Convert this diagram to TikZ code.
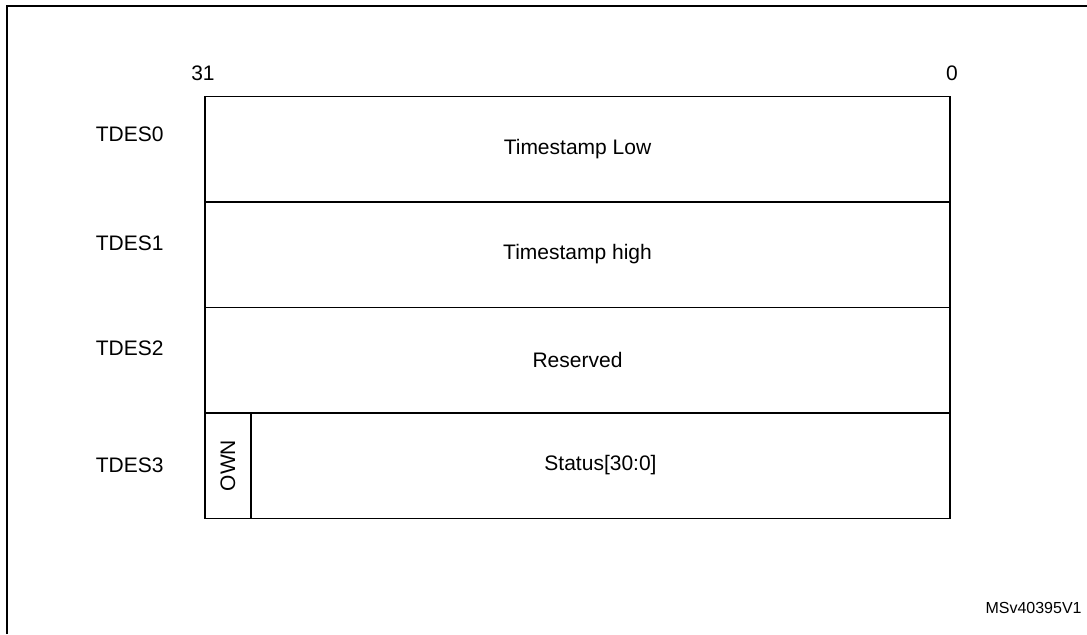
\documentclass[tikz,border=0pt]{standalone}
\usepackage{fontspec}
\setmainfont{Liberation Sans}
\usepackage{tikz}
\usetikzlibrary{calc}

\begin{document}
\begin{tikzpicture}[x=0.5pt,y=-0.5pt,
        field/.style={draw,line width=0.75pt,inner sep=0pt,minimum height=52.75pt,font=\fontsize{10.5}{12}\selectfont},
        word/.style={anchor=east,inner sep=0pt,font=\fontsize{10.5}{12}\selectfont},
        bit/.style={inner sep=0pt,font=\fontsize{10.5}{12}\selectfont}]

        \useasboundingbox (0,0) rectangle (1087,634);
        \draw [line width=1pt] (7,634) -- (7,5.5) -- (1087,5.5);

        \node [bit] at (203,73) (b31) {31};
        \node [bit] at (952,73) (b0) {0};

        \node [field, minimum width=372.5pt] at (577.5,149) (d0) {Timestamp Low};
        \node [field, minimum width=372.5pt] at (577.5,254.5) (d1) {Timestamp high};
        \node [field, minimum width=372.5pt] at (577.5,360) (d2) {Reserved};
        \node [field, minimum width=23pt] at (228,465.5) (own) {\rotatebox{90}{OWN}};
        \node [field, minimum width=349.5pt] at (600.5,465.5) (status) {Status[30:0]};

        \node [word] at (164,134) (t0) {TDES0};
        \node [word] at (164,243) (t1) {TDES1};
        \node [word] at (164,348) (t2) {TDES2};
        \node [word] at (164,465) (t3) {TDES3};

        \node [inner sep=0pt, anchor=east, font=\fontsize{8}{9}\selectfont] at (1082,608) (ref) {MSv40395V1};

    \end{tikzpicture}
\end{document}
